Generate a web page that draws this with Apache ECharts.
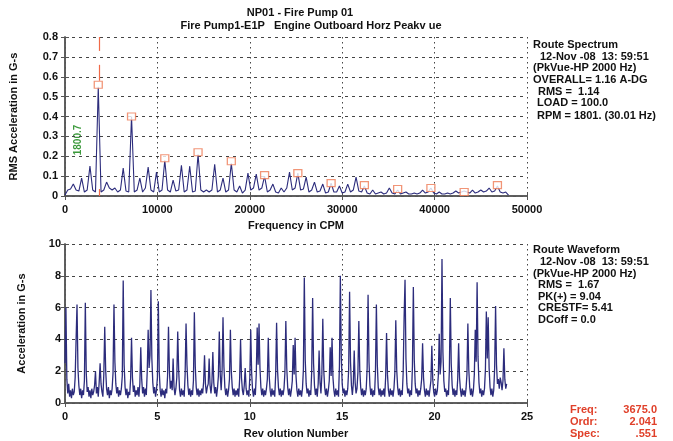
<!DOCTYPE html>
<html><head><meta charset="utf-8">
<script src="https://cdn.jsdelivr.net/npm/echarts@6/dist/echarts.min.js"></script>
<style>html,body{margin:0;padding:0;background:#fff}#c{width:673px;height:441px}</style>
</head><body><div id="c"></div>
<script>
// ---- Spectrum (top) ----
const spectrumStep = 300; // CPM between samples
const spectrumValues = [
  0.005, 0.03, 0.035,
  0.06, 0.03, 0.025,   0.09, 0.02, 0.03,   0.15, 0.03, 0.02,   0.55, 0.02, 0.03,
  0.07, 0.04, 0.03,    0.04, 0.02, 0.03,   0.14, 0.025, 0.02,  0.40, 0.02, 0.03,
  0.09, 0.02, 0.04,    0.145, 0.03, 0.02,  0.12, 0.02, 0.03,   0.18, 0.03, 0.02,
  0.08, 0.025, 0.03,   0.155, 0.02, 0.03,  0.15, 0.02, 0.025,  0.21, 0.03, 0.02,
  0.03, 0.02, 0.03,    0.16, 0.02, 0.03,   0.09, 0.02, 0.03,   0.165, 0.03, 0.02,
  0.05, 0.015, 0.03,   0.115, 0.03, 0.04,  0.11, 0.03, 0.04,   0.10, 0.02, 0.03,
  0.06, 0.02, 0.015,   0.04, 0.02, 0.04,   0.12, 0.03, 0.04,   0.115, 0.03, 0.035,
  0.095, 0.02, 0.03,   0.07, 0.02, 0.025,  0.06, 0.015, 0.02,  0.065, 0.02, 0.02,
  0.05, 0.015, 0.02,   0.06, 0.02, 0.03,   0.095, 0.025, 0.02, 0.05, 0.015, 0.01,
  0.03, 0.01, 0.015,   0.02, 0.01, 0.015,  0.04, 0.015, 0.01,  0.03, 0.01, 0.015,
  0.02, 0.01, 0.01,    0.015, 0.01, 0.015, 0.03, 0.015, 0.02,  0.04, 0.015, 0.01,
  0.02, 0.01, 0.01,    0.015, 0.01, 0.015, 0.025, 0.015, 0.02, 0.025, 0.02, 0.015,
  0.03, 0.015, 0.02,   0.03, 0.02, 0.025,  0.04, 0.02, 0.025,  0.05, 0.02, 0.015,
  0.02, 0.005
];
const markerFreqs = [3600, 7200, 10800, 14400, 18000, 21600, 25200, 28800, 32400, 36000, 39600, 43200, 46800];
const markerAmps  = [0.56, 0.40, 0.19, 0.22, 0.175, 0.105, 0.115, 0.065, 0.055, 0.035, 0.04, 0.02, 0.055];
const cursorFreq = 3675;
const freqTicks = [0, 10000, 20000, 30000, 40000, 50000];
const ampTicks = [0, 0.1, 0.2, 0.3, 0.4, 0.5, 0.6, 0.7, 0.8];

// ---- Waveform (bottom) ----
const waveStep = 0.05; // revolutions between samples
const waveValues = [
  2.5,6.0,1.5,0.6,1.2,0.4,0.8,0.3,0.9,0.5,0.7,1.6,4.0,6.2,2.2,1.1,0.5,0.9,0.3,0.8,
  0.5,1.4,6.3,1.9,0.7,1.0,0.4,0.8,0.3,0.9,0.5,0.7,1.1,2.0,0.6,1.0,0.4,1.3,2.5,1.2,
  0.7,0.4,1.8,4.8,2.1,0.9,0.5,1.0,0.3,0.8,0.5,0.9,1.9,6.2,2.6,1.2,0.6,1.0,0.4,0.8,
  0.5,0.9,1.7,7.7,2.4,1.0,0.5,0.9,0.3,0.7,0.5,1.5,4.1,1.6,0.7,1.1,0.4,0.8,0.5,1.0,
  0.4,1.2,3.5,1.5,0.6,1.0,0.4,0.9,0.5,2.0,4.6,2.2,3.0,7.1,2.8,1.3,0.6,1.0,0.4,0.8,
  1.6,6.4,2.0,0.8,0.4,0.9,0.5,0.8,0.3,0.9,0.6,1.7,4.8,2.0,0.9,1.4,0.8,2.8,1.0,0.5,
  0.9,1.6,4.5,2.1,0.8,0.4,0.9,0.5,0.8,0.4,1.8,5.0,2.4,1.1,0.5,0.9,0.4,0.8,0.5,1.4,
  5.7,2.3,1.0,0.5,0.9,0.4,0.8,0.5,0.9,0.6,1.3,3.0,1.2,0.6,1.0,1.2,2.8,1.1,0.6,1.3,
  3.2,1.3,0.6,1.0,0.4,0.9,1.7,4.5,1.8,0.8,2.0,5.4,2.3,1.0,0.5,0.9,0.4,0.8,1.5,4.6,
  2.0,1.0,0.5,0.9,0.4,0.8,0.5,0.9,0.4,1.5,4.0,1.6,0.8,0.5,1.1,2.2,0.9,0.5,0.8,0.4,
  1.6,4.6,1.9,0.8,0.4,0.9,0.5,1.8,4.75,2.4,5.0,2.2,1.0,0.5,0.9,0.4,0.8,0.5,0.9,1.5,
  4.1,1.7,0.8,0.4,0.9,0.5,0.8,0.4,1.8,5.05,2.1,1.0,0.5,0.9,0.4,0.8,0.5,0.9,1.9,5.15,
  2.2,1.0,0.5,0.9,0.4,0.8,1.4,3.65,1.8,4.1,1.7,0.8,0.4,0.9,0.5,0.8,0.4,0.9,2.1,7.9,
  2.7,1.2,0.6,0.9,0.4,0.8,0.5,2.0,6.6,2.5,1.1,0.5,0.9,0.4,1.2,3.3,1.3,0.6,1.8,5.3,
  2.1,1.0,0.5,0.9,0.4,0.8,1.4,3.5,1.7,4.1,1.6,0.8,0.4,0.9,0.5,0.8,0.4,2.3,8.0,2.9,
  1.2,0.6,0.9,0.4,0.8,0.5,0.9,2.1,7.0,2.6,1.1,0.5,1.2,3.3,1.3,0.6,0.9,1.9,5.15,2.1,
  1.0,0.5,0.9,0.4,0.8,0.5,0.9,2.2,6.8,2.6,1.1,0.5,0.9,0.4,0.8,0.5,2.0,6.2,2.4,1.0,
  0.5,0.9,0.4,0.8,0.5,0.9,0.4,1.6,4.4,1.8,0.8,0.4,0.9,0.5,0.8,0.4,0.9,1.9,5.2,2.1,
  1.0,0.5,0.9,0.4,0.8,0.5,1.9,5.4,7.75,2.8,1.2,0.6,0.9,0.4,0.8,0.5,2.3,7.3,2.7,1.2,
  0.6,0.9,0.4,0.8,0.5,0.9,1.5,3.75,1.6,0.8,0.4,0.9,0.5,0.8,0.4,0.9,1.4,3.6,1.5,0.7,
  0.4,0.9,0.5,0.8,1.7,4.35,1.8,2.6,9.05,3.2,1.4,0.7,0.9,0.4,0.8,0.5,2.1,6.6,2.5,1.1,
  0.5,0.9,0.4,0.8,0.5,1.5,3.75,1.6,0.8,0.4,0.9,0.5,0.8,0.4,0.9,1.8,5.0,2.1,1.0,0.5,
  0.9,0.4,0.8,1.8,4.6,2.6,7.6,2.9,1.3,0.6,0.9,0.4,0.8,0.5,0.9,2.1,5.75,2.8,5.4,2.2,
  1.0,0.5,0.9,0.4,0.8,2.2,6.1,2.4,1.2,1.5,0.9,1.6,1.3,0.8,1.4,3.45,1.5,0.9,1.2
];
const revTicks = [0, 5, 10, 15, 20, 25];
const accelTicks = [0, 2, 4, 6, 8, 10];

const FONT = "'Liberation Sans', Arial, sans-serif";
const LINE = '#2c2c7c';
const FRAME = '#555';
const RED = '#e0402a';
const txt = (s, x, y) => ({
  type: 'text', x: x, y: y,
  style: { text: s, fill: '#111', font: 'bold 11px ' + FONT }
});

const chart = echarts.init(document.getElementById('c'), null, { renderer: 'canvas' });

function xAxisMain(grid, min, max, interval, name, gap) {
  return {
    type: 'value', gridIndex: grid, position: 'bottom', min: min, max: max, interval: interval,
    name: name, nameLocation: 'middle', nameGap: gap,
    nameTextStyle: { fontFamily: FONT, fontWeight: 'bold', fontSize: 11, color: '#111' },
    axisLine: { show: true, lineStyle: { color: FRAME, width: 1.5 } },
    axisTick: { show: true, inside: false, length: 4, lineStyle: { color: FRAME } },
    axisLabel: { margin: 8, fontFamily: FONT, fontWeight: 'bold', fontSize: 11, color: '#111',
      formatter: v => String(v) },
    splitLine: { show: true, lineStyle: { color: '#444', type: [1.5, 3.5], width: 1 } }
  };
}
function xAxisTop(grid, min, max, interval) {
  return {
    type: 'value', gridIndex: grid, position: 'top', min: min, max: max, interval: interval,
    axisLine: { show: true, lineStyle: { color: FRAME, width: 1.5 } },
    axisTick: { show: true, inside: false, length: 4, lineStyle: { color: FRAME } },
    axisLabel: { show: false }, splitLine: { show: false }
  };
}
function yAxisMain(grid, min, max, interval, name, gap, fmt, margin) {
  return {
    type: 'value', gridIndex: grid, position: 'left', min: min, max: max, interval: interval,
    name: name, nameLocation: 'middle', nameGap: gap, nameRotate: 90,
    nameTextStyle: { fontFamily: FONT, fontWeight: 'bold', fontSize: 11, color: '#111' },
    axisLine: { show: true, lineStyle: { color: FRAME, width: 1.5 } },
    axisTick: { show: true, inside: false, length: 4, lineStyle: { color: FRAME } },
    axisLabel: { margin: margin, fontFamily: FONT, fontWeight: 'bold', fontSize: 11, color: '#111', formatter: fmt },
    splitLine: { show: true, lineStyle: { color: '#444', type: [3, 4], width: 1 } }
  };
}
function yAxisRight(grid, min, max, interval) {
  return {
    type: 'value', gridIndex: grid, position: 'right', min: min, max: max, interval: interval,
    axisLine: { show: true, lineStyle: { color: FRAME, width: 1.5 } },
    axisTick: { show: true, inside: false, length: 4, lineStyle: { color: FRAME } },
    axisLabel: { show: false }, splitLine: { show: false }
  };
}

const spectrumData = spectrumValues.map((v, i) => [i * spectrumStep, v]);
const markerData = markerFreqs.map((f, i) => [f, markerAmps[i]]);
const waveData = waveValues.map((v, i) => [+(i * waveStep).toFixed(2), v]);

const option = {
  animation: false,
  backgroundColor: '#fff',
  textStyle: { fontFamily: FONT },
  grid: [
    { left: 65, right: 146, top: 37, height: 159 },
    { left: 65, right: 146, top: 244, height: 159 }
  ],
  xAxis: [
    xAxisMain(0, freqTicks[0], freqTicks[freqTicks.length - 1], freqTicks[1] - freqTicks[0], 'Frequency in CPM', 24),
    xAxisTop(0, freqTicks[0], freqTicks[freqTicks.length - 1], freqTicks[1] - freqTicks[0]),
    xAxisMain(1, revTicks[0], revTicks[revTicks.length - 1], revTicks[1] - revTicks[0], 'Rev olution Number', 25),
    xAxisTop(1, revTicks[0], revTicks[revTicks.length - 1], revTicks[1] - revTicks[0])
  ],
  yAxis: [
    yAxisMain(0, ampTicks[0], ampTicks[ampTicks.length - 1], 0.1, 'RMS Acceleration in G-s', 46,
      v => (v === 0 ? '0' : v.toFixed(1)), 7),
    yAxisRight(0, ampTicks[0], ampTicks[ampTicks.length - 1], 0.1),
    yAxisMain(1, accelTicks[0], accelTicks[accelTicks.length - 1], accelTicks[1] - accelTicks[0], 'Acceleration in G-s', 38,
      v => String(v), 4),
    yAxisRight(1, accelTicks[0], accelTicks[accelTicks.length - 1], accelTicks[1] - accelTicks[0])
  ],
  series: [
    {
      type: 'line', xAxisIndex: 0, yAxisIndex: 0, data: spectrumData,
      showSymbol: false, symbol: 'none', lineStyle: { color: LINE, width: 1.1 }, z: 3,
      markLine: {
        silent: true, symbol: ['none', 'none'], label: { show: false },
        emphasis: { disabled: true },
        lineStyle: { color: '#f06a48', width: 1.2, type: 'solid', opacity: 1 },
        data: [
          [{ coord: [cursorFreq, 0.8] }, { coord: [cursorFreq, 0.73] }],
          [{ coord: [cursorFreq, 0.66] }, { coord: [cursorFreq, 0.58] }],
          [{ coord: [cursorFreq, 0.0] }, { coord: [cursorFreq, 0.035] }]
        ]
      }
    },
    {
      type: 'scatter', xAxisIndex: 0, yAxisIndex: 0, data: markerData,
      symbol: 'rect', symbolSize: [8, 7], z: 4,
      itemStyle: { color: '#fff', borderColor: '#ee7a55', borderWidth: 1.2 }
    },
    {
      type: 'line', xAxisIndex: 2, yAxisIndex: 2, data: waveData,
      showSymbol: false, symbol: 'none', lineStyle: { color: LINE, width: 1.3 }, z: 3
    }
  ],
  graphic: [
    { type: 'text', x: 300, y: 13, style: { text: 'NP01 - Fire Pump 01', fill: '#111', font: 'bold 11px ' + FONT, align: 'center', verticalAlign: 'middle' } },
    { type: 'text', x: 311, y: 26, style: { text: 'Fire Pump1-E1P   Engine Outboard Horz Peakv ue', fill: '#111', font: 'bold 11px ' + FONT, align: 'center', verticalAlign: 'middle' } },
    // green 1x label
    { type: 'text', x: 78, y: 140, rotation: Math.PI / 2,
      style: { text: '1800.7', fill: '#3c9a3c', font: 'bold 10px ' + FONT, align: 'center', verticalAlign: 'middle' } },
    // right panel (spectrum)
    txt('Route Spectrum', 533, 39),
    txt('12-Nov -08  13: 59:51', 540, 51),
    txt('(PkVue-HP 2000 Hz)', 533, 62),
    txt('OVERALL= 1.16 A-DG', 533, 74),
    txt('RMS =  1.14', 538, 86),
    txt('LOAD = 100.0', 537, 97),
    txt('RPM = 1801. (30.01 Hz)', 537, 110),
    // right panel (waveform)
    txt('Route Waveform', 533, 244),
    txt('12-Nov -08  13: 59:51', 540, 256),
    txt('(PkVue-HP 2000 Hz)', 533, 268),
    txt('RMS =  1.67', 538, 279),
    txt('PK(+) = 9.04', 538, 291),
    txt('CRESTF= 5.41', 538, 302),
    txt('DCoff = 0.0', 538, 314),
    // cursor readout
    { type: 'text', x: 570, y: 404, style: { text: 'Freq:', fill: RED, font: 'bold 11px ' + FONT } },
    { type: 'text', x: 570, y: 416, style: { text: 'Ordr:', fill: RED, font: 'bold 11px ' + FONT } },
    { type: 'text', x: 570, y: 428, style: { text: 'Spec:', fill: RED, font: 'bold 11px ' + FONT } },
    { type: 'text', x: 657, y: 404, style: { text: '3675.0', fill: RED, font: 'bold 11px ' + FONT, align: 'right' } },
    { type: 'text', x: 657, y: 416, style: { text: '2.041', fill: RED, font: 'bold 11px ' + FONT, align: 'right' } },
    { type: 'text', x: 657, y: 428, style: { text: '.551', fill: RED, font: 'bold 11px ' + FONT, align: 'right' } }
  ]
};
chart.setOption(option);
</script>
</body></html>
